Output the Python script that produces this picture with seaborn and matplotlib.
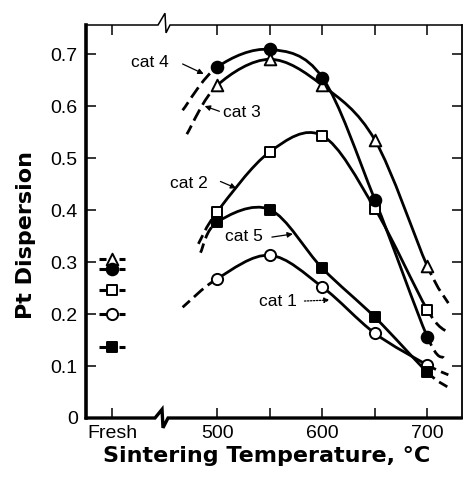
import numpy as np
import pandas as pd
import matplotlib
matplotlib.use("Agg")
import matplotlib.pyplot as plt
from matplotlib.path import Path
from matplotlib.patches import PathPatch
import matplotlib.transforms as mtransforms
import seaborn as sns

# ---------------- data ----------------
temps = [500, 550, 600, 650, 700]
fresh_x = 400
cat_names = ["cat 1", "cat 2", "cat 3", "cat 4", "cat 5"]
cat1 = [0.268, 0.313, 0.252, 0.163, 0.102]
cat2 = [0.397, 0.512, 0.543, 0.403, 0.208]
cat3 = [0.640, 0.690, 0.640, 0.535, 0.292]
cat4 = [0.675, 0.709, 0.655, 0.420, 0.156]
cat5 = [0.377, 0.401, 0.288, 0.194, 0.088]
fresh_values = [0.200, 0.246, 0.305, 0.287, 0.137]
# dashed extrapolation tails of the hand-drawn curves
tail_start_T = [467, 482, 471, 467, 484]
tail_start_v = [0.213, 0.335, 0.546, 0.592, 0.318]
tail_end_T = [720, 719, 720, 716, 719]
tail_end_v = [0.083, 0.165, 0.221, 0.115, 0.060]
xtick_pos = [400, 500, 550, 600, 650, 700]
xtick_labels = ["Fresh", "500", "", "600", "", "700"]
ytick_pos = [0, 0.1, 0.2, 0.3, 0.4, 0.5, 0.6, 0.7]
ytick_labels = ["0", "0.1", "0.2", "0.3", "0.4", "0.5", "0.6", "0.7"]

series = [cat1, cat2, cat3, cat4, cat5]
markers = ["o", "s", "^", "o", "s"]
filled = [False, False, False, True, True]
msize = [65, 60, 70, 70, 60]

sns.set_style("ticks")
plt.rcParams["font.family"] = ["Liberation Sans", "DejaVu Sans"]
plt.rcParams["text.color"] = "black"
plt.rcParams["axes.labelcolor"] = "black"
plt.rcParams["xtick.color"] = "black"
plt.rcParams["ytick.color"] = "black"
plt.rcParams["axes.edgecolor"] = "black"

fig = plt.figure(figsize=(4.63, 4.79), dpi=100)
ax = fig.add_axes([86 / 463, 1 - 418 / 479, 376 / 463, 393 / 479])
ax.set_xlim(375, 733)
ax.set_ylim(0, 0.756)


def catmull_segments(xs, ys):
    P = np.column_stack([xs, ys]).astype(float)
    Pe = np.vstack([P[0], P, P[-1]])
    segs = []
    for i in range(len(P) - 1):
        p0, p1, p2, p3 = Pe[i], Pe[i + 1], Pe[i + 2], Pe[i + 3]
        c1 = p1 + (p2 - p0) / 6.0
        c2 = p2 - (p3 - p1) / 6.0
        segs.append((p1, c1, c2, p2))
    return segs


def seg_path(segs):
    verts, codes = [], []
    for k, (a, b, c, d) in enumerate(segs):
        if k == 0:
            verts.append(a)
            codes.append(Path.MOVETO)
        verts += [b, c, d]
        codes += [Path.CURVE4] * 3
    return Path(verts, codes)


for i, vals in enumerate(series):
    xs = [tail_start_T[i]] + temps + [tail_end_T[i]]
    ys = [tail_start_v[i]] + vals + [tail_end_v[i]]
    segs = catmull_segments(xs, ys)
    ax.add_patch(PathPatch(seg_path(segs[1:-1]), fill=False, lw=2.0,
                           edgecolor="black", zorder=2))
    for s in (segs[0], segs[-1]):
        p = PathPatch(seg_path([s]), fill=False, edgecolor="black", zorder=2,
                      capstyle="butt")
        p.set_linewidth(2.0)
        p.set_linestyle((1.0, (4.5, 2.0)))
        ax.add_patch(p)
    df = pd.DataFrame({"T": temps, "v": vals})
    sns.scatterplot(data=df, x="T", y="v", marker=markers[i], s=msize[i],
                    facecolor="black" if filled[i] else "white",
                    edgecolor="black", linewidth=1.4, zorder=4, ax=ax)
    # fresh point with short dashes on both sides
    dfx = pd.DataFrame({"T": [fresh_x], "v": [fresh_values[i]]})
    for sgn in (-1, 1):
        ax.plot([fresh_x + sgn * 6.5 / 1.05, fresh_x + sgn * 13 / 1.05],
                [fresh_values[i]] * 2, color="black", lw=2.2,
                solid_capstyle="butt", zorder=3)
    sns.scatterplot(data=dfx, x="T", y="v", marker=markers[i], s=msize[i],
                    facecolor="black" if filled[i] else "white",
                    edgecolor="black", linewidth=1.4, zorder=4, ax=ax)

# annotations
afs = 12.5
arrow_kw = dict(arrowstyle="-|>", color="black", lw=0.9,
                shrinkA=0, shrinkB=0, mutation_scale=8)
ax.text(436, 0.683, "cat 4", fontsize=afs, ha="center", va="center")
ax.annotate("", xy=(487, 0.662), xytext=(467, 0.681), arrowprops=arrow_kw)
ax.text(505, 0.587, "cat 3", fontsize=afs, ha="left", va="center")
ax.annotate("", xy=(488, 0.600), xytext=(502, 0.590), arrowprops=arrow_kw)
ax.text(455, 0.452, "cat 2", fontsize=afs, ha="left", va="center")
ax.annotate("", xy=(518, 0.442), xytext=(503, 0.455), arrowprops=arrow_kw)
ax.text(507, 0.350, "cat 5", fontsize=afs, ha="left", va="center")
ax.annotate("", xy=(572, 0.354), xytext=(552, 0.348), arrowprops=arrow_kw)
ax.text(540, 0.225, "cat 1", fontsize=afs, ha="left", va="center")
dotted_kw = dict(arrow_kw)
dotted_kw["linestyle"] = (0, (1.2, 1.2))
ax.annotate("", xy=(607, 0.227), xytext=(583, 0.225), arrowprops=dotted_kw)

# ticks
ax.set_xticks(xtick_pos)
ax.set_xticklabels(xtick_labels)
ax.set_yticks(ytick_pos)
ax.set_yticklabels(ytick_labels)
ax.tick_params(axis="both", direction="in", length=7, width=1.1,
               labelsize=14, top=True, right=True, color="black",
               labelcolor="black")
ax.tick_params(axis="y", pad=6)
ax.tick_params(axis="x", pad=5)

# spines: left/right drawn; top/bottom drawn by hand with breaks
ax.spines["left"].set_linewidth(2.6)
ax.spines["right"].set_linewidth(1.3)
ax.spines["top"].set_visible(False)
ax.spines["bottom"].set_visible(False)
trans = mtransforms.blended_transform_factory(ax.transData, ax.transAxes)
ax.plot([375, 440.7, 447.4, 448.3, 453.1, 733], [0, 0, 0.022, -0.025, 0, 0],
        transform=trans, color="black", lw=2.4, clip_on=False, zorder=5,
        solid_joinstyle="miter")
ax.plot([375, 443.6, 450.2, 451.2, 455, 733], [1, 1, 1.03, 0.98, 1, 1],
        transform=trans, color="black", lw=1.1, clip_on=False, zorder=5,
        solid_joinstyle="miter")

ax.set_xlabel("Sintering Temperature, °C", fontsize=16, fontweight="bold",
              family="DejaVu Sans", color="black")
ax.set_ylabel("Pt Dispersion", fontsize=16, fontweight="bold",
              family="DejaVu Sans", color="black")
ax.xaxis.set_label_coords(0.481, -0.072)
ax.yaxis.set_label_coords(-0.133, 0.466)

fig.savefig("out.png", dpi=100)
